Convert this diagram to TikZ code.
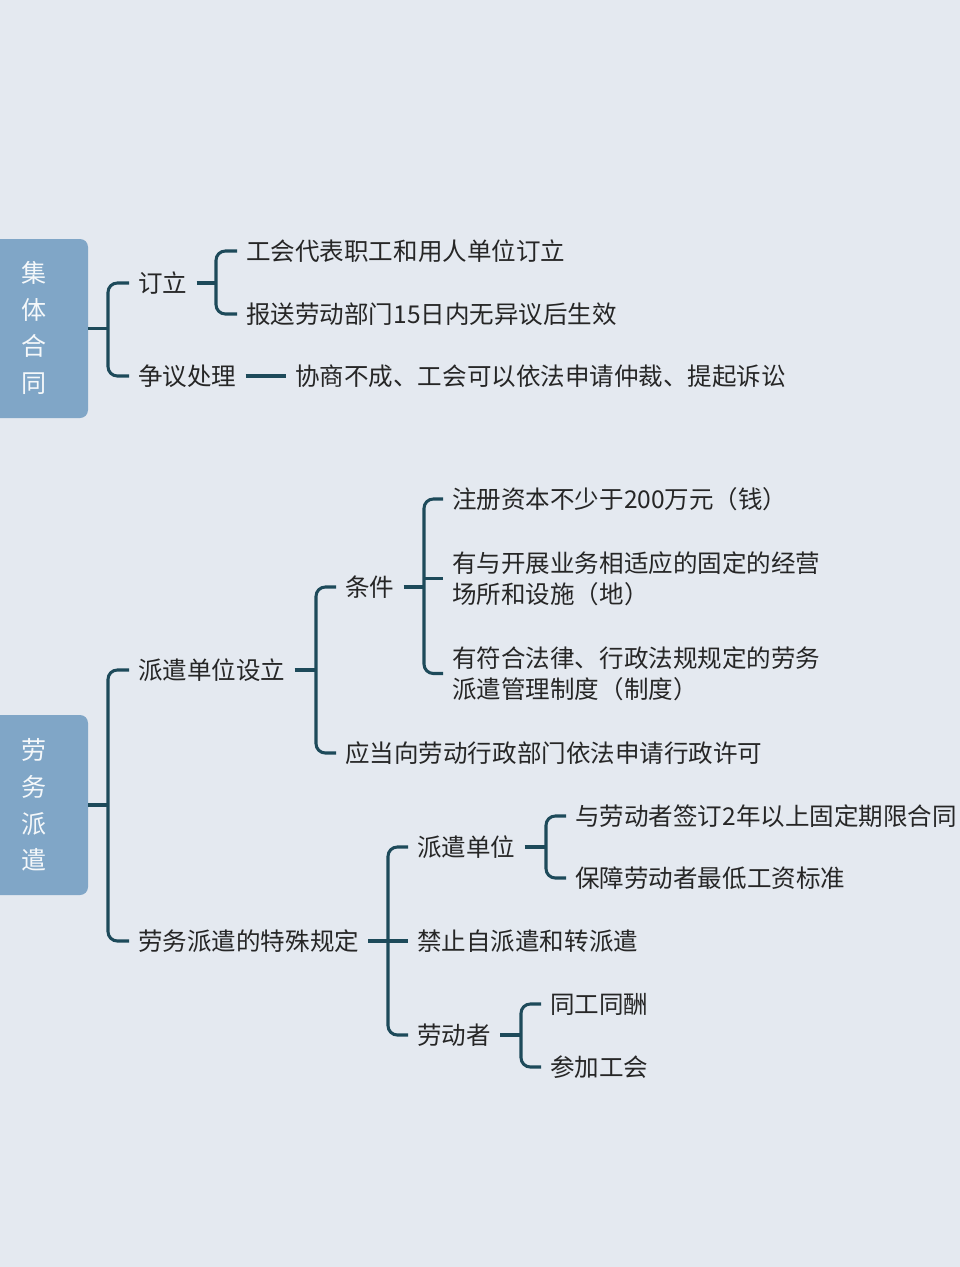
\documentclass[tikz,border=0pt]{standalone}
\usepackage{fontspec}
\newfontfamily\cjk{Noto Sans CJK SC}
\usetikzlibrary{calc}
\definecolor{bg}{HTML}{E4E9F0}
\definecolor{boxc}{HTML}{80A6C7}
\definecolor{linec}{HTML}{1D4A5A}
\definecolor{txtc}{HTML}{262626}
\tikzset{
  lbl/.style={font=\cjk\fontsize{18.4pt}{23.3pt}\selectfont, text=txtc, inner sep=0pt, anchor=west, text height=14.7pt, text depth=1.1pt},
  lbltwo/.style={font=\cjk\fontsize{18.4pt}{23.3pt}\selectfont, text=txtc, inner sep=0pt, anchor=west, align=left},
  conn/.style={draw=linec, line width=2.3pt, rounded corners=7pt},
  bigbox/.style={fill=boxc, rounded corners=6pt, minimum width=75pt, inner sep=0pt},
  boxtxt/.style={font=\cjk\fontsize{18.8pt}{27.5pt}\selectfont, text=white!92!boxc, align=center, inner sep=0pt}
}
\begin{document}
\begin{tikzpicture}[x=0.75pt,y=-0.75pt]
\fill[bg] (0,0) rectangle (960,1267);
\useasboundingbox (0,0) rectangle (960,1267);

% spines
\coordinate (sA) at (108,0);
\coordinate (sA1) at (216,0);
\coordinate (sB) at (108,0);
\coordinate (sC) at (316,0);
\coordinate (sD) at (424,0);
\coordinate (sE) at (388,0);
\coordinate (sF) at (546,0);
\coordinate (sG) at (521,0);

% ---------- group 1
\node[bigbox, minimum height=134.25pt] (b1) at (38,328.5) {};
\node[boxtxt] (t1) at (34,328) {集\\体\\合\\同};
\node[lbl] (a1) at (138,283) {订立};
\node[lbl] (a2) at (138,376) {争议处理};
\node[lbl] (a11) at (246,251) {工会代表职工和用人单位订立};
\node[lbl] (a12) at (246,314) {报送劳动部门15日内无异议后生效};
\node[lbl] (a21) at (295,376) {协商不成、工会可以依法申请仲裁、提起诉讼};

\draw[conn] (b1.east) -- (b1.east -| sA);
\draw[conn] ($(a1.west)+(-9,0)$) -| (a2.west -| sA) -- ($(a2.west)+(-9,0)$);
\draw[conn] ($(a1.east)+(9,0)$) -- (a1.east -| sA1);
\draw[conn] ($(a11.west)+(-9,0)$) -| (a12.west -| sA1) -- ($(a12.west)+(-9,0)$);
\draw[conn] ($(a2.east)+(9,0)$) -- ($(a21.west)+(-9,0)$);

% ---------- group 2
\node[bigbox, minimum height=135pt] (b2) at (38,805) {};
\node[boxtxt] (t2) at (34,805) {劳\\务\\派\\遣};
\node[lbl] (n1) at (138,670) {派遣单位设立};
\node[lbl] (n2) at (138,941) {劳务派遣的特殊规定};
\node[lbl] (n11) at (345,587) {条件};
\node[lbl] (n12) at (345,753) {应当向劳动行政部门依法申请行政许可};
\node[lbl] (c1) at (452,499) {注册资本不少于200万元（钱）};
\node[lbltwo] (c2) at (452,578.5) {有与开展业务相适应的固定的经营\\场所和设施（地）};
\node[lbltwo] (c3) at (452,673.5) {有符合法律、行政法规规定的劳务\\派遣管理制度（制度）};
\node[lbl] (d1) at (417,847) {派遣单位};
\node[lbl] (d2) at (417,941) {禁止自派遣和转派遣};
\node[lbl] (d3) at (417,1035) {劳动者};
\node[lbl] (e1) at (575,816) {与劳动者签订2年以上固定期限合同};
\node[lbl] (e2) at (575,878) {保障劳动者最低工资标准};
\node[lbl] (f1) at (550,1004) {同工同酬};
\node[lbl] (f2) at (550,1067) {参加工会};

\draw[conn] (b2.east) -- (b2.east -| sB);
\draw[conn] ($(n1.west)+(-9,0)$) -| (n2.west -| sB) -- ($(n2.west)+(-9,0)$);

\draw[conn] ($(n1.east)+(9,0)$) -- (n1.east -| sC);
\draw[conn] ($(n11.west)+(-9,0)$) -| (n12.west -| sC) -- ($(n12.west)+(-9,0)$);

\draw[conn] ($(n11.east)+(9,0)$) -- (n11.east -| sD);
\draw[conn] ($(c1.west)+(-9,0)$) -| (c3.west -| sD) -- ($(c3.west)+(-9,0)$);
\draw[conn] (c2.west -| sD) -- ($(c2.west)+(-9,0)$);

\draw[conn] ($(n2.east)+(9,0)$) -- (n2.east -| sE);
\draw[conn] ($(d1.west)+(-9,0)$) -| (d3.west -| sE) -- ($(d3.west)+(-9,0)$);
\draw[conn] (d2.west -| sE) -- ($(d2.west)+(-9,0)$);

\draw[conn] ($(d1.east)+(9,0)$) -- (d1.east -| sF);
\draw[conn] ($(e1.west)+(-9,0)$) -| (e2.west -| sF) -- ($(e2.west)+(-9,0)$);

\draw[conn] ($(d3.east)+(9,0)$) -- (d3.east -| sG);
\draw[conn] ($(f1.west)+(-9,0)$) -| (f2.west -| sG) -- ($(f2.west)+(-9,0)$);
\end{tikzpicture}
\end{document}
